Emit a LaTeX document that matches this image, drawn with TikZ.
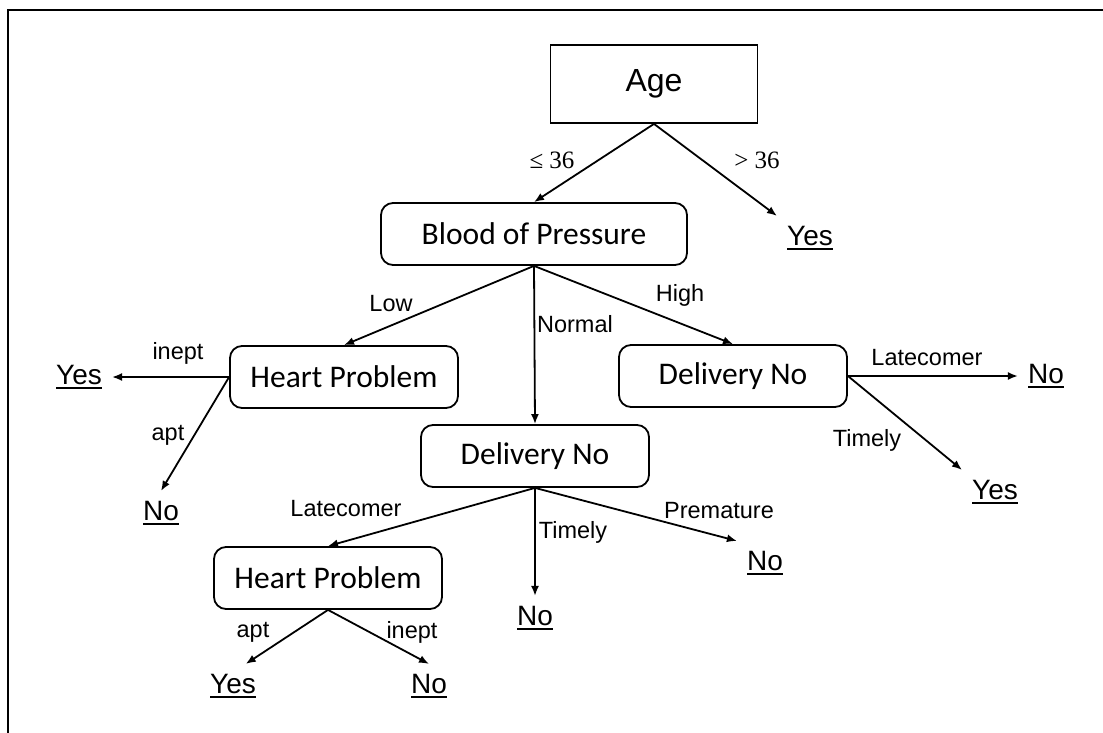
\documentclass[tikz,border=0pt]{standalone}
\usepackage{fontspec}
\setmainfont{Liberation Sans}
\newfontfamily\boxfont{Carlito}
\newfontfamily\condfont{Liberation Serif}
\usepackage{tikz}
\usetikzlibrary{arrows.meta}
\newcommand{\leafbar}[1]{\setbox0\hbox{#1}\rlap{\rule[-4.5pt]{\wd0}{1.4pt}}\box0}
\tikzset{
  root/.style={
    draw, line width=1.8pt,
    minimum width=207pt, minimum height=78pt,
    font=\fontsize{32}{38}\selectfont
  },
  split/.style={
    draw, line width=1.8pt, rounded corners=12pt,
    minimum width=228pt, minimum height=62pt, inner sep=0pt,
    font=\boxfont\fontsize{31.5}{36}\selectfont
  },
  leaf/.style={inner sep=10pt, font=\fontsize{28}{32}\selectfont},
  lbl/.style={inner sep=0pt, font=\fontsize{23.5}{28}\selectfont},
  cond/.style={inner sep=0pt, font=\condfont\fontsize{25}{28}\selectfont},
  branch/.style={-{Latex[length=10pt,width=8pt]}, line width=1.8pt}
}
\begin{document}
\begin{tikzpicture}[x=1pt, y=-1pt]
  \useasboundingbox (0,0) rectangle (1103,733);
  % Frame
  \draw[line width=2.5pt] (8,740) -- (8,10) -- (1110,10);

  % Decision nodes
  \node[root] (age) at (654,84) {Age};
  \node[split, minimum width=306pt] (bop) at (534,234) {Blood of Pressure};
  \node[split] (hpL) at (344,377) {Heart Problem};
  \node[split] (dnR) at (733,376) {Delivery No};
  \node[split] (dnM) at (535,456) {Delivery No};
  \node[split] (hpB) at (328,578) {Heart Problem};

  % Leaves
  \node[leaf] (yesAge) at (810,238) {\leafbar{Yes}};
  \node[leaf] (yesHpL) at (79,377) {\leafbar{Yes}};
  \node[leaf] (noHpL) at (161,513) {\leafbar{No}};
  \node[leaf] (noDnR) at (1046,376) {\leafbar{No}};
  \node[leaf] (yesDnR) at (995,492) {\leafbar{Yes}};
  \node[leaf] (noDnMt) at (535,618) {\leafbar{No}};
  \node[leaf] (noDnMp) at (765,563) {\leafbar{No}};
  \node[leaf] (yesHpB) at (233,686) {\leafbar{Yes}};
  \node[leaf] (noHpB) at (429,686) {\leafbar{No}};

  % Branches
  \draw[branch] (age.south) -- (bop.north);
  \draw[branch] (age.south) -- (yesAge.north west);
  \draw[branch] (bop.south) -- (hpL.north);
  \draw[branch] (bop.south) -- (dnM.north);
  \draw[branch] (bop.south) -- (dnR.north);
  \draw[branch] (hpL.west) -- (yesHpL.east);
  \draw[branch] (hpL.west) -- (noHpL.north);
  \draw[branch] (dnR.east) -- (noDnR.west);
  \draw[branch] (dnR.east) -- (yesDnR.north west);
  \draw[branch] (dnM.south) -- (hpB.north);
  \draw[branch] (dnM.south) -- (noDnMt.north);
  \draw[branch] (dnM.south) -- (noDnMp.north west);
  \draw[branch] (hpB.south) -- (yesHpB.60);
  \draw[branch] (hpB.south) -- (noHpB.north);

  % Branch labels
  \node[cond] (leAge) at (552,160) {≤ 36};
  \node[cond] (gtAge) at (757,160) {> 36};
  \node[lbl] (low) at (391,304) {Low};
  \node[lbl] (normal) at (575,324) {Normal};
  \node[lbl] (high) at (680,295) {High};
  \node[lbl] (ineptL) at (178,353) {inept};
  \node[lbl] (aptL) at (168,435) {apt};
  \node[lbl] (lateR) at (927,358) {Latecomer};
  \node[lbl] (timelyR) at (867,440) {Timely};
  \node[lbl] (lateM) at (346,509) {Latecomer};
  \node[lbl] (timelyM) at (573,532) {Timely};
  \node[lbl] (prem) at (719,511) {Premature};
  \node[lbl] (aptB) at (253,632) {apt};
  \node[lbl] (ineptB) at (412,632) {inept};
\end{tikzpicture}
\end{document}
